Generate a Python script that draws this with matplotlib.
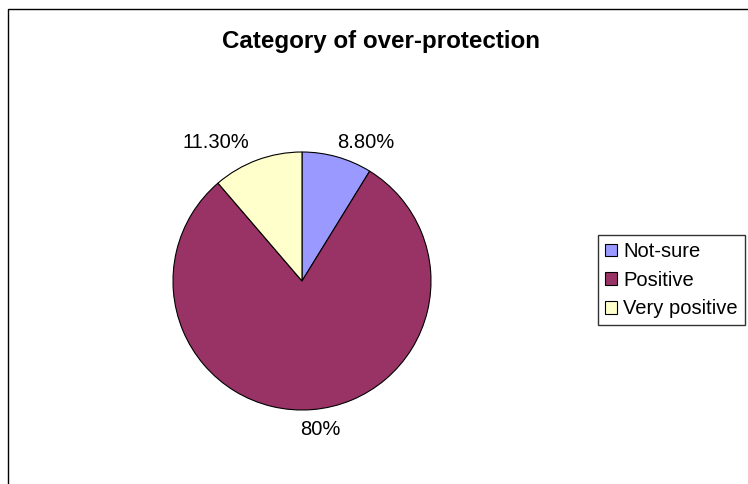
import matplotlib
matplotlib.use('Agg')
import matplotlib.pyplot as plt
from matplotlib.patches import Rectangle, Patch
import numpy as np

plt.rcParams['font.family'] = ['Liberation Sans', 'DejaVu Sans']

categories = ['Not-sure', 'Positive', 'Very positive']
shares = [8.8, 80.0, 11.3]
value_labels = ['8.80%', '80%', '11.30%']
colors = ['#9999FF', '#993366', '#FFFFCC']

W, H = 748, 484
fig = plt.figure(figsize=(W / 100, H / 100), dpi=100)

# outer chart frame (right/bottom run off the image)
fig.patches.append(Rectangle((8 / W, -0.1), 1.1, 1 - 9 / H + 0.1, transform=fig.transFigure,
                             fill=False, ec='black', lw=1.0, clip_on=False))

# pie axes: centre (302, 281), radius 129 px
cx, cy, r = 302, 281, 129
ax = fig.add_axes([(cx - r) / W, (H - cy - r) / H, 2 * r / W, 2 * r / H])
wedges, _ = ax.pie(shares, colors=colors, startangle=90, counterclock=False,
                   wedgeprops=dict(edgecolor='black', linewidth=0.8))
ax.set_xlim(-1, 1); ax.set_ylim(-1, 1)
ax.set_aspect('equal')

# value labels outside each wedge (baseline offsets from the arc, radius units)
offsets = [(0.225, 0.07), (0.062, -0.2), (-0.318, 0.093)]
for w, lab, (ox, oy) in zip(wedges, value_labels, offsets):
    ang = np.deg2rad((w.theta1 + w.theta2) / 2)
    ax.text(np.cos(ang) + ox, np.sin(ang) + oy, lab, ha='center', va='baseline',
            fontsize=14.5, clip_on=False)

# title centred on the (cut-off) chart area
fig.text(381 / W, 1 - 48 / H, 'Category of over-protection', ha='center', va='baseline',
         fontsize=17.4, fontweight='bold')

handles = [Patch(facecolor=c, edgecolor='black', lw=0.8) for c in colors]
leg = fig.legend(handles, categories, loc='upper left', bbox_to_anchor=(598 / W, 1 - 235 / H),
                 fontsize=14.5, frameon=True, fancybox=False, edgecolor='black',
                 handlelength=0.6, handleheight=0.6, handletextpad=0.3,
                 borderpad=0.35, labelspacing=0.48, borderaxespad=0)
leg.get_frame().set_linewidth(1.0)

fig.savefig('out.png', dpi=100)
